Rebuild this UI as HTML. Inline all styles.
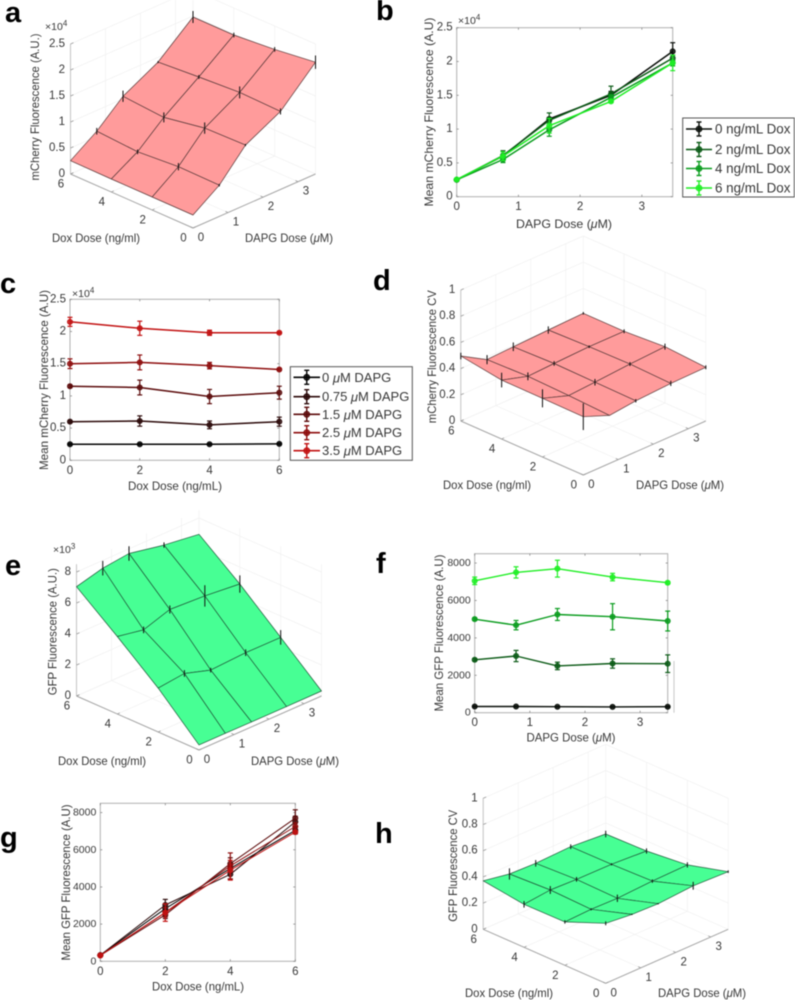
<!DOCTYPE html>
<html lang="en">
<head>
<meta charset="utf-8">
<title>mCherry and GFP dose response figure</title>
<style>
html,body{margin:0;padding:0;background:#fff;width:795px;height:1000px;overflow:hidden}
svg{display:block;font-family:"Liberation Sans",Arial,sans-serif;filter:blur(.4px)}
text{fill:#383838}
.panel-letter{font-weight:700;font-size:29px;fill:#000}
</style>
</head>
<body>
<svg id="figure" xmlns="http://www.w3.org/2000/svg" width="795" height="1000" viewBox="0 0 795 1000">
  <rect width="795" height="1000" fill="#fff"/>
  <text class="panel-letter" x="5" y="22">a</text>
  <text class="panel-letter" x="376" y="20">b</text>
  <text class="panel-letter" x="0" y="293">c</text>
  <text class="panel-letter" x="373" y="290">d</text>
  <text class="panel-letter" x="5" y="575">e</text>
  <text class="panel-letter" x="376" y="573">f</text>
  <text class="panel-letter" x="0" y="847">g</text>
  <text class="panel-letter" x="375" y="843">h</text>
  <g id="panel-a"></g>
  <g id="panel-b"></g>
  <g id="panel-c"></g>
  <g id="panel-d"></g>
  <g id="panel-e"></g>
  <g id="panel-f"></g>
  <g id="panel-g"></g>
  <g id="panel-h"></g>
  <line x1="674" y1="661" x2="674" y2="712.7" stroke="#c8c8c8" stroke-width="1"/>
</svg>
<script>
// Doses
const dapgDoses = [0, 0.75, 1.5, 2.5, 3.5];
const doxDoses = [0, 2, 4, 6];
const dapgTicks = [0, 1, 2, 3];
const doxTicks = [0, 2, 4, 6];

// mCherry mean, one array per Dox dose, ordered by DAPG dose
const mCherryDox0 = [2500, 6000, 11500, 15000, 21500];
const mCherryDox2 = [2500, 6100, 11300, 15200, 20500];
const mCherryDox4 = [2500, 5500, 9900, 14700, 19800];
const mCherryDox6 = [2550, 6000, 10500, 14100, 19800];

// mCherry error (surface and panel b), per Dox dose
const mCherryErrDox0 = [100, 250, 200, 580, 1280];
const mCherryErrDox2 = [100, 700, 1090, 1150, 450];
const mCherryErrDox4 = [100, 450, 960, 380, 450];
const mCherryErrDox6 = [100, 640, 1090, 200, 1150];

// mCherry error (panel c), per DAPG dose, ordered by Dox dose
const mCherryErrDapg0 = [100, 100, 100, 100];
const mCherryErrDapg075 = [150, 800, 600, 700];
const mCherryErrDapg15 = [200, 1150, 1100, 1000];
const mCherryErrDapg25 = [750, 1150, 500, 150];
const mCherryErrDapg35 = [700, 1100, 400, 100];

// mCherry CV surface, per Dox dose
const mCherryCvDox0 = [0.445, 0.367, 0.39, 0.405, 0.41];
const mCherryCvDox2 = [0.448, 0.38, 0.394, 0.415, 0.43];
const mCherryCvDox4 = [0.45, 0.39, 0.40, 0.41, 0.41];
const mCherryCvDox6 = [0.496, 0.38, 0.39, 0.40, 0.41];
const mCherryCvErrDox0 = [0.102, 0, 0.013, 0.02, 0.015];
const mCherryCvErrDox2 = [0.069, 0, 0.025, 0.015, 0.023];
const mCherryCvErrDox4 = [0.056, 0.03, 0.018, 0.01, 0.015];
const mCherryCvErrDox6 = [0.025, 0.035, 0.033, 0.028, 0.01];

// GFP mean, per Dox dose
const gfpDox0 = [330, 330, 320, 310, 320];
const gfpDox2 = [2830, 3030, 2500, 2630, 2620];
const gfpDox4 = [5000, 4680, 5250, 5130, 4900];
const gfpDox6 = [7050, 7500, 7700, 7250, 6950];

// GFP error (panels f and g), per Dox dose
const gfpErrDox0 = [30, 30, 30, 30, 30];
const gfpErrDox2 = [60, 300, 200, 250, 470];
const gfpErrDox4 = [60, 250, 320, 700, 530];
const gfpErrDox6 = [200, 300, 450, 200, 60];

// GFP error (surface e), per Dox dose
const gfpSurfErrDox0 = [0, 0, 0, 0, 0];
const gfpSurfErrDox2 = [0, 215, 150, 215, 470];
const gfpSurfErrDox4 = [0, 215, 260, 690, 560];
const gfpSurfErrDox6 = [0, 470, 470, 170, 0];

// GFP CV surface, per Dox dose
const gfpCvDox0 = [0.458, 0.438, 0.431, 0.45, 0.44];
const gfpCvDox2 = [0.331, 0.339, 0.335, 0.348, 0.354];
const gfpCvDox4 = [0.328, 0.349, 0.342, 0.339, 0.323];
const gfpCvDox6 = [0.37, 0.334, 0.327, 0.336, 0.315];
const gfpCvErrDox0 = [0.015, 0.005, 0.005, 0.03, 0.01];
const gfpCvErrDox2 = [0.013, 0.008, 0.028, 0.013, 0.02];
const gfpCvErrDox4 = [0.025, 0.03, 0.018, 0.008, 0.02];
const gfpCvErrDox6 = [0, 0.043, 0.025, 0.018, 0.025];

// Tick labels
const mCherryTicks = [0, 5000, 10000, 15000, 20000, 25000];
const mCherryTickLabels = ['0', '0.5', '1', '1.5', '2', '2.5'];
const gfpSurfTicks = [0, 2000, 4000, 6000, 8000];
const gfpSurfTickLabels = ['0', '2', '4', '6', '8'];
const gfpTicks = [0, 2000, 4000, 6000, 8000];
const gfpTickLabels = ['0', '2000', '4000', '6000', '8000'];
const cvTicks = [0, 0.2, 0.4, 0.6, 0.8, 1];
const cvTickLabels = ['0', '0.2', '0.4', '0.6', '0.8', '1'];

// Legends
const doxLegend = ['0 ng/mL Dox', '2 ng/mL Dox', '4 ng/mL Dox', '6 ng/mL Dox'];
const dapgLegend = ['0 \u03bcM DAPG', '0.75 \u03bcM DAPG', '1.5 \u03bcM DAPG', '2.5 \u03bcM DAPG', '3.5 \u03bcM DAPG'];
const greenColors = ['#0a0f0a', '#0b5a16', '#0a9c1e', '#1fee24'];
const redColors = ['#050505', '#2c0a0a', '#5c0c0c', '#8e0e0e', '#c21212'];

const NS = 'http://www.w3.org/2000/svg';
const W3 = 122.5, D3 = 54;

function mk(parent, tag, attrs) {
  const e = document.createElementNS(NS, tag);
  for (const k in attrs) e.setAttribute(k, attrs[k]);
  parent.appendChild(e);
  return e;
}
function setText(e, s) {
  const parts = s.split('\u03bc');
  e.appendChild(document.createTextNode(parts[0]));
  if (parts.length > 1) {
    const t = document.createElementNS(NS, 'tspan');
    t.setAttribute('font-style', 'italic');
    t.textContent = '\u03bc';
    e.appendChild(t);
    e.appendChild(document.createTextNode(parts[1]));
  }
}
function tickText(parent, x, y, s, anchor, size) {
  const t = mk(parent, 'text', {x: x, y: y, 'text-anchor': anchor, 'dominant-baseline': 'central', 'font-size': size});
  t.textContent = s;
  
  
}
function titleH(parent, cx, cy, s, w, name) {
  const t = mk(parent, 'text', {x: cx, y: cy, 'text-anchor': 'middle', 'dominant-baseline': 'central', 'font-size': 12, textLength: w, lengthAdjust: 'spacingAndGlyphs'});
  setText(t, s);
  
  
}
function titleV(parent, cx, cy, s, w, name) {
  const t = mk(parent, 'text', {x: 0, y: 0, transform: 'translate(' + cx + ' ' + cy + ') rotate(-90)', 'text-anchor': 'middle', 'dominant-baseline': 'central', 'font-size': 12, textLength: w, lengthAdjust: 'spacingAndGlyphs'});
  setText(t, s);
  
  
}
function exponentLabel(parent, x, y, exp) {
  const t = mk(parent, 'text', {x: x, y: y, 'font-size': 10.5});
  t.textContent = '\u00d710';
  const s = mk(t, 'tspan', {dy: -4, 'font-size': 8});
  s.textContent = exp;
  
  
}
function seg(parent, x1, y1, x2, y2, color, width, name) {
  const l = mk(parent, 'line', {x1: x1, y1: y1, x2: x2, y2: y2, stroke: color, 'stroke-width': width});
  
  
  return l;
}
function column(rows, i) { return rows.map(function (r) { return r[i]; }); }

function drawSurface(c) {
  const g = document.getElementById(c.id);
  const zs = c.zPx / c.zMax;
  const px = function (dapg, dox) { return c.fx + dapg / 3.5 * W3 - dox / 6 * W3; };
  const py = function (dapg, dox, z) { return c.fy - dapg / 3.5 * D3 - dox / 6 * D3 - z * zs; };
  const wall = '#f1f1f1';

  // back-wall and floor grid
  c.zTicks.forEach(function (z) {
    seg(g, px(0, 6), py(0, 6, z), px(3.5, 6), py(3.5, 6, z), wall, 0.7, 'wall-gridline');
    seg(g, px(3.5, 6), py(3.5, 6, z), px(3.5, 0), py(3.5, 0, z), wall, 0.7, 'wall-gridline');
  });
  dapgTicks.forEach(function (d) {
    seg(g, px(d, 0), py(d, 0, 0), px(d, 6), py(d, 6, 0), wall, 0.7, 'floor-gridline');
    seg(g, px(d, 6), py(d, 6, 0), px(d, 6), py(d, 6, c.zMax), wall, 0.7, 'wall-gridline');
  });
  doxTicks.forEach(function (d) {
    seg(g, px(0, d), py(0, d, 0), px(3.5, d), py(3.5, d, 0), wall, 0.7, 'floor-gridline');
    seg(g, px(3.5, d), py(3.5, d, 0), px(3.5, d), py(3.5, d, c.zMax), wall, 0.7, 'wall-gridline');
  });

  // visible axes
  seg(g, px(0, 6), py(0, 6, 0), px(0, 6), py(0, 6, c.zMax), '#c4c4c4', 1, 'z-axis-line');
  seg(g, px(0, 6), py(0, 6, 0), px(0, 0), py(0, 0, 0), '#a6a6a6', 1, 'dox-axis-line');
  seg(g, px(0, 0), py(0, 0, 0), px(3.5, 0), py(3.5, 0, 0), '#a6a6a6', 1, 'dapg-axis-line');

  c.zTicks.forEach(function (z, i) {
    seg(g, px(0, 6), py(0, 6, z), px(0, 6) + 3, py(0, 6, z) - 1.3, '#999', 0.8, 'z-axis-tick');
    tickText(g, px(0, 6) - 5.5, py(0, 6, z), c.zLabels[i], 'end', 11.5);
  });
  dapgTicks.forEach(function (d) {
    seg(g, px(d, 0), py(d, 0, 0), px(d, 0) - 2.5, py(d, 0, 0) - 1.2, '#999', 0.8, 'dapg-axis-tick');
    tickText(g, px(d, 0) + 8, py(d, 0, 0) + 10, String(d), 'middle', 11.5);
  });
  doxTicks.forEach(function (d) {
    seg(g, px(0, d), py(0, d, 0), px(0, d) + 2.5, py(0, d, 0) - 1.2, '#999', 0.8, 'dox-axis-tick');
    tickText(g, px(0, d) - 9.5, py(0, d, 0) + 10.5, String(d), 'middle', 11.5);
  });

  // surface cells, back to front
  for (let j = doxDoses.length - 2; j >= 0; j--) {
    for (let i = dapgDoses.length - 2; i >= 0; i--) {
      const corners = [[i, j], [i + 1, j], [i + 1, j + 1], [i, j + 1]];
      const pts = corners.map(function (q) {
        const a = dapgDoses[q[0]], b = doxDoses[q[1]];
        return px(a, b).toFixed(1) + ',' + py(a, b, c.means[q[1]][q[0]]).toFixed(1);
      }).join(' ');
      const cell = mk(g, 'polygon', {points: pts, fill: c.fill, stroke: c.edge, 'stroke-width': 0.7, 'stroke-linejoin': 'round'});
      
      
    }
  }

  // error bars
  doxDoses.forEach(function (dox, j) {
    dapgDoses.forEach(function (dapg, i) {
      const e = c.errs[j][i];
      if (e > 0) {
        const m = c.means[j][i];
        seg(g, px(dapg, dox), py(dapg, dox, m - e), px(dapg, dox), py(dapg, dox, m + e), '#111', 1, 'surface-error-bar');
      }
    });
  });

  titleV(g, c.zTitleX, c.zTitleY, c.zTitle, c.zTitleW, 'z-axis-title');
  titleH(g, c.doxTitleX, c.titleY, 'Dox Dose (ng/ml)', 88, 'dox-axis-title');
  titleH(g, c.dapgTitleX, c.titleY, 'DAPG Dose (\u03bcM)', 88, 'dapg-axis-title');
}

function drawLines(c) {
  const g = document.getElementById(c.id);
  const sx = function (v) { return c.x0 + v / c.xMax * (c.x1 - c.x0); };
  const sy = function (v) { return c.y1 - v / c.yMax * (c.y1 - c.y0); };

  const box = mk(g, 'rect', {x: c.x0, y: c.y0, width: c.x1 - c.x0, height: c.y1 - c.y0, fill: '#fff', stroke: '#b0b0b0', 'stroke-width': 1});
  
  

  c.xTicks.forEach(function (v) {
    seg(g, sx(v), c.y1, sx(v), c.y1 - 2, '#888', 0.8, 'x-axis-tick');
    seg(g, sx(v), c.y0, sx(v), c.y0 + 2, '#888', 0.8, 'x-axis-tick');
    tickText(g, sx(v), c.y1 + 10.5, String(v), 'middle', 11.5);
  });
  c.yTicks.forEach(function (v, i) {
    seg(g, c.x0, sy(v), c.x0 + 2, sy(v), '#888', 0.8, 'y-axis-tick');
    seg(g, c.x1, sy(v), c.x1 - 2, sy(v), '#888', 0.8, 'y-axis-tick');
    tickText(g, c.x0 - 4, sy(v), c.yLabels[i], 'end', c.tickSize);
  });

  c.series.forEach(function (vals, k) {
    const color = c.colors[k];
    const path = vals.map(function (v, i) { return sx(c.xs[i]).toFixed(1) + ',' + sy(v).toFixed(1); }).join(' ');
    const line = mk(g, 'polyline', {points: path, fill: 'none', stroke: color, 'stroke-width': c.lineWidth, 'stroke-linejoin': 'round'});
    
    
    vals.forEach(function (v, i) {
      const e = c.errs[k][i], x = sx(c.xs[i]);
      seg(g, x, sy(v - e), x, sy(v + e), color, 1.2, 'error-bar');
      seg(g, x - 2.5, sy(v - e), x + 2.5, sy(v - e), color, 1.2, 'error-cap');
      seg(g, x - 2.5, sy(v + e), x + 2.5, sy(v + e), color, 1.2, 'error-cap');
      const dot = mk(g, 'circle', {cx: x, cy: sy(v), r: 2.6, fill: color, 'fill-opacity': 0.85, stroke: color, 'stroke-width': 0.8});
      
      
    });
  });

  titleH(g, c.xTitleX, c.xTitleY, c.xTitle, c.xTitleW, 'x-axis-title');
  titleV(g, c.yTitleX, c.yTitleY, c.yTitle, c.yTitleW, 'y-axis-title');
}

function drawLegend(panelId, box, ys, labels, colors, lineX, textX, size) {
  const g = mk(document.getElementById(panelId), 'g', {});
  
  
  const frame = mk(g, 'rect', {x: box[0], y: box[1], width: box[2], height: box[3], fill: '#fff', stroke: '#555', 'stroke-width': 1});
  
  
  labels.forEach(function (s, i) {
    const y = ys[i], c = colors[i], mid = (lineX[0] + lineX[1]) / 2;
    seg(g, lineX[0], y, lineX[1], y, c, 1.6, 'legend-line');
    seg(g, mid, y - 7, mid, y + 7, c, 1.4, 'legend-error-bar');
    seg(g, mid - 2.5, y - 7, mid + 2.5, y - 7, c, 1.4, 'legend-error-cap');
    seg(g, mid - 2.5, y + 7, mid + 2.5, y + 7, c, 1.4, 'legend-error-cap');
    const d = mk(g, 'circle', {cx: mid, cy: y, r: 3, fill: c, 'fill-opacity': 0.85, stroke: c, 'stroke-width': 0.8});
    
    
    const t = mk(g, 'text', {x: textX, y: y, 'dominant-baseline': 'central', 'font-size': size});
    setText(t, s);
    
    
  });
}

const mCherryRows = [mCherryDox0, mCherryDox2, mCherryDox4, mCherryDox6];
const gfpRows = [gfpDox0, gfpDox2, gfpDox4, gfpDox6];
const gfpErrRows = [gfpErrDox0, gfpErrDox2, gfpErrDox4, gfpErrDox6];

drawSurface({id: 'panel-a', fx: 193, fy: 228, zPx: 130, zMax: 25000, zTicks: mCherryTicks, zLabels: mCherryTickLabels,
  means: mCherryRows, errs: [mCherryErrDox0.map(function (v, i) { return i ? v : 0; }), mCherryErrDox2.map(function (v, i) { return i ? v : 0; }), mCherryErrDox4.map(function (v, i) { return i ? v : 0; }), mCherryErrDox6.map(function (v, i) { return i ? v : 0; })],
  fill: '#ff9b9b', edge: '#5a3a3a', zTitle: 'mCherry Fluorescence (A.U.)', zTitleX: 35, zTitleY: 107, zTitleW: 147,
  doxTitleX: 96, dapgTitleX: 289, titleY: 238});
exponentLabel(document.getElementById('panel-a'), 45, 30, '4');

drawSurface({id: 'panel-d', fx: 583.3, fy: 475, zPx: 131, zMax: 1, zTicks: cvTicks, zLabels: cvTickLabels,
  means: [mCherryCvDox0, mCherryCvDox2, mCherryCvDox4, mCherryCvDox6],
  errs: [mCherryCvErrDox0, mCherryCvErrDox2, mCherryCvErrDox4, mCherryCvErrDox6],
  fill: '#ff9b9b', edge: '#5a3a3a', zTitle: 'mCherry Fluorescence CV', zTitleX: 432, zTitleY: 356.7, zTitleW: 133,
  doxTitleX: 487, dapgTitleX: 680, titleY: 485});

drawSurface({id: 'panel-e', fx: 199, fy: 750, zPx: 131.75, zMax: 8500, zTicks: gfpSurfTicks, zLabels: gfpSurfTickLabels,
  means: gfpRows, errs: [gfpSurfErrDox0, gfpSurfErrDox2, gfpSurfErrDox4, gfpSurfErrDox6],
  fill: '#47ff94', edge: '#1f5a3a', zTitle: 'GFP Fluorescence (A.U.)', zTitleX: 52.7, zTitleY: 631.7, zTitleW: 127,
  doxTitleX: 102, dapgTitleX: 295, titleY: 761});
exponentLabel(document.getElementById('panel-e'), 53, 553, '3');

drawSurface({id: 'panel-h', fx: 605.7, fy: 983.3, zPx: 131, zMax: 1, zTicks: cvTicks, zLabels: cvTickLabels,
  means: [gfpCvDox0, gfpCvDox2, gfpCvDox4, gfpCvDox6],
  errs: [gfpCvErrDox0, gfpCvErrDox2, gfpCvErrDox4, gfpCvErrDox6],
  fill: '#47ff94', edge: '#1f5a3a', zTitle: 'GFP Fluorescence CV', zTitleX: 453, zTitleY: 865.8, zTitleW: 112,
  doxTitleX: 509, dapgTitleX: 702, titleY: 993});

drawLines({id: 'panel-b', x0: 456.7, x1: 672.7, y0: 27.7, y1: 196.7, xMax: 3.5, yMax: 25000,
  xs: dapgDoses, xTicks: dapgTicks, yTicks: mCherryTicks, yLabels: mCherryTickLabels, tickSize: 11.5, lineWidth: 1.5,
  series: mCherryRows, errs: [mCherryErrDox0, mCherryErrDox2, mCherryErrDox4, mCherryErrDox6], colors: greenColors,
  xTitle: 'DAPG Dose (\u03bcM)', xTitleX: 564, xTitleY: 224, xTitleW: 96,
  yTitle: 'Mean mCherry Fluorescence (A.U)', yTitleX: 429, yTitleY: 112, yTitleW: 189});
exponentLabel(document.getElementById('panel-b'), 458, 24, '4');
drawLegend('panel-b', [682.7, 118, 111.6, 79], [129, 149.5, 168.5, 188], doxLegend, greenColors, [686, 712], 715, 13.4);

drawLines({id: 'panel-c', x0: 70, x1: 279.3, y0: 299.3, y1: 460.3, xMax: 6, yMax: 25000,
  xs: doxDoses, xTicks: doxTicks, yTicks: mCherryTicks, yLabels: mCherryTickLabels, tickSize: 11.5, lineWidth: 1.5,
  series: dapgDoses.map(function (d, i) { return column(mCherryRows, i); }),
  errs: [mCherryErrDapg0, mCherryErrDapg075, mCherryErrDapg15, mCherryErrDapg25, mCherryErrDapg35], colors: redColors,
  xTitle: 'Dox Dose (ng/mL)', xTitleX: 175, xTitleY: 486, xTitleW: 94,
  yTitle: 'Mean mCherry Fluorescence (A.U)', yTitleX: 44, yTitleY: 380, yTitleW: 180});
exponentLabel(document.getElementById('panel-c'), 72, 297, '4');
drawLegend('panel-c', [290.3, 366.7, 122, 93.6], [377.3, 396.7, 414.3, 432.7, 450.7], dapgLegend, redColors, [293.5, 320], 322, 13);

drawLines({id: 'panel-f', x0: 474.7, x1: 667.7, y0: 553.7, y1: 712.7, xMax: 3.5, yMax: 8500,
  xs: dapgDoses, xTicks: dapgTicks, yTicks: gfpTicks, yLabels: gfpTickLabels, tickSize: 10.5, lineWidth: 1.4,
  series: gfpRows, errs: gfpErrRows, colors: greenColors,
  xTitle: 'DAPG Dose (\u03bcM)', xTitleX: 571, xTitleY: 737.7, xTitleW: 89,
  yTitle: 'Mean GFP Fluorescence (A.U)', yTitleX: 439, yTitleY: 633, yTitleW: 157});

drawLines({id: 'panel-g', x0: 100.3, x1: 295.3, y0: 803.3, y1: 961.3, xMax: 6, yMax: 8500,
  xs: doxDoses, xTicks: doxTicks, yTicks: gfpTicks, yLabels: gfpTickLabels, tickSize: 10.5, lineWidth: 1,
  series: dapgDoses.map(function (d, i) { return column(gfpRows, i); }),
  errs: dapgDoses.map(function (d, i) { return column(gfpErrRows, i); }), colors: redColors,
  xTitle: 'Dox Dose (ng/mL)', xTitleX: 198, xTitleY: 986.7, xTitleW: 92,
  yTitle: 'Mean GFP Fluorescence (A.U)', yTitleX: 66, yTitleY: 882.5, yTitleW: 156});
</script>
</body>
</html>
